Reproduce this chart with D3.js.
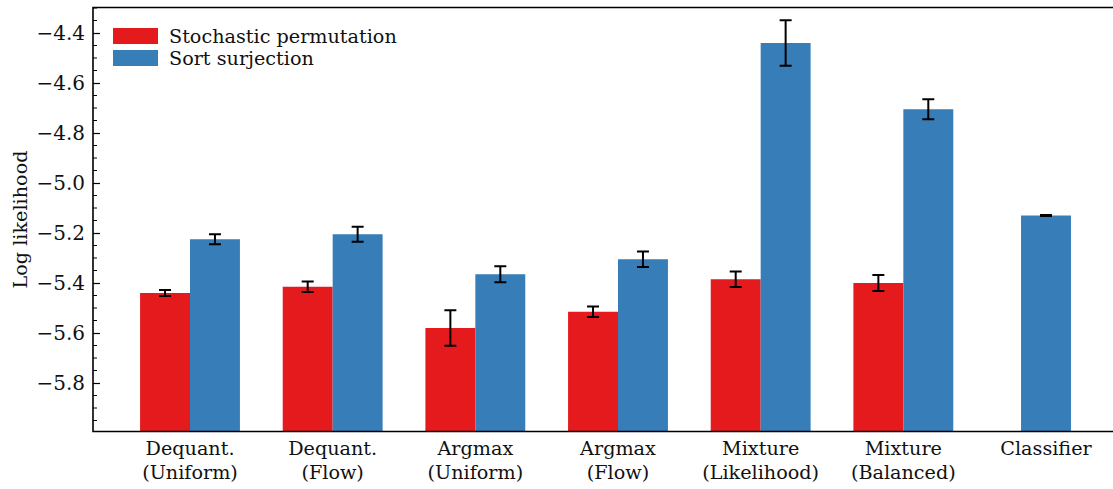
<!DOCTYPE html>
<html>
<head>
<meta charset="utf-8">
<script src="https://cdn.jsdelivr.net/npm/d3@7"></script>
<style>
  html, body { margin: 0; padding: 0; background: #fff; }
  svg { display: block; }
  text { font-family: "DejaVu Serif", serif; fill: #111; }
</style>
</head>
<body>
<svg id="chart" width="1113" height="489"></svg>
<script>
// Method names (two-line labels) along the x axis
const categories = [
  ["Dequant.", "(Uniform)"],
  ["Dequant.", "(Flow)"],
  ["Argmax", "(Uniform)"],
  ["Argmax", "(Flow)"],
  ["Mixture", "(Likelihood)"],
  ["Mixture", "(Balanced)"],
  ["Classifier"]
];
const seriesNames = ["Stochastic permutation", "Sort surjection"];
// Mean log likelihood and standard error per method
const permValues = [-5.44, -5.415, -5.58, -5.515, -5.385, -5.40, null];
const permErrors = [0.012, 0.021, 0.071, 0.021, 0.031, 0.032, null];
const sortValues = [-5.225, -5.205, -5.365, -5.305, -4.44, -4.705, -5.13];
const sortErrors = [0.02, 0.03, 0.032, 0.031, 0.091, 0.04, 0.002];
const yTickValues = [-5.8, -5.6, -5.4, -5.2, -5.0, -4.8, -4.6, -4.4];
const colors = ["#e41a1c", "#377eb8"];

const FONT = "DejaVu Serif";
const FS = 19.2;

const svg = d3.select("#chart");
const plotLeft = 93, plotTop = 7.5, plotBottom = 431.5, plotRight = 1120;

const y = d3.scaleLinear().domain([-5.994, -4.298]).range([plotBottom, plotTop]);
const x = d3.scaleLinear().domain([0, 6]).range([190, 1046]);
const barW = 0.35;
const px = v => x(v) - x(0);

// bars
const rows = categories.map((c, i) => ({
  i, perm: permValues[i], permErr: permErrors[i], sort: sortValues[i], sortErr: sortErrors[i]
}));
const bars = [];
rows.forEach(r => {
  if (r.perm !== null) {
    bars.push({ s: 0, x0: r.i - barW, v: r.perm, e: r.permErr, c: r.i - barW / 2 });
    bars.push({ s: 1, x0: r.i, v: r.sort, e: r.sortErr, c: r.i + barW / 2 });
  } else {
    bars.push({ s: 1, x0: r.i - barW / 2, v: r.sort, e: r.sortErr, c: r.i });
  }
});

svg.append("g").selectAll("rect").data(bars).join("rect")
  .attr("x", d => x(d.x0))
  .attr("width", px(barW))
  .attr("y", d => y(d.v))
  .attr("height", d => y.range()[0] - y(d.v))
  .attr("fill", d => colors[d.s]);

// error bars
const eg = svg.append("g").attr("stroke", "#000").attr("stroke-width", 2);
const capHalf = 6;
bars.forEach(d => {
  const cx = x(d.c);
  eg.append("line").attr("x1", cx).attr("x2", cx).attr("y1", y(d.v - d.e)).attr("y2", y(d.v + d.e));
  eg.append("line").attr("x1", cx - capHalf).attr("x2", cx + capHalf).attr("y1", y(d.v - d.e)).attr("y2", y(d.v - d.e));
  eg.append("line").attr("x1", cx - capHalf).attr("x2", cx + capHalf).attr("y1", y(d.v + d.e)).attr("y2", y(d.v + d.e));
});

// y axis: major ticks inward with labels, minor ticks every 0.05
const minorTicks = d3.range(-5.95, -4.3, 0.05).map(v => Math.round(v * 100) / 100)
  .filter(v => !yTickValues.some(t => Math.abs(t - v) < 1e-6));
const yAxis = svg.append("g").attr("transform", `translate(${plotLeft},0)`);
yAxis.call(d3.axisLeft(y).tickValues(yTickValues).tickFormat(d3.format(".1f")).tickSize(-7).tickPadding(8))
  .call(g => g.select(".domain").remove());
yAxis.selectAll(".tick line").attr("stroke", "#000").attr("stroke-width", 1.2);
yAxis.selectAll(".tick text").attr("font-size", 20).attr("font-family", FONT).attr("fill", "#111");
yAxis.selectAll("line.minor").data(minorTicks).join("line").attr("class", "minor")
  .attr("x1", 0).attr("x2", 4).attr("y1", d => y(d)).attr("y2", d => y(d))
  .attr("stroke", "#000").attr("stroke-width", 1);

// spines: left, top, bottom
const sp = svg.append("g").attr("stroke", "#000").attr("stroke-width", 1.6).attr("fill", "none");
sp.append("path").attr("d", `M${plotRight},${plotTop}H${plotLeft}V${plotBottom}H${plotRight}`);

// x labels
const xl = svg.append("g").attr("text-anchor", "middle").attr("font-size", FS).attr("font-family", FONT);
categories.forEach((lines, i) => {
  lines.forEach((t, j) => {
    xl.append("text").attr("x", x(i)).attr("y", 455 + j * 23.5).text(t);
  });
});

// y label
svg.append("text").attr("transform", `translate(27,${(plotTop + plotBottom) / 2}) rotate(-90)`)
  .attr("text-anchor", "middle").attr("font-size", FS).attr("font-family", FONT).text("Log likelihood");

// legend
const lg = svg.append("g");
seriesNames.forEach((name, i) => {
  lg.append("rect").attr("x", 113).attr("y", 28 + i * 22).attr("width", 45).attr("height", 16).attr("fill", colors[i]);
  lg.append("text").attr("x", 169).attr("y", 43 + i * 22).attr("font-size", FS).attr("font-family", FONT).text(name);
});
</script>
</body>
</html>
